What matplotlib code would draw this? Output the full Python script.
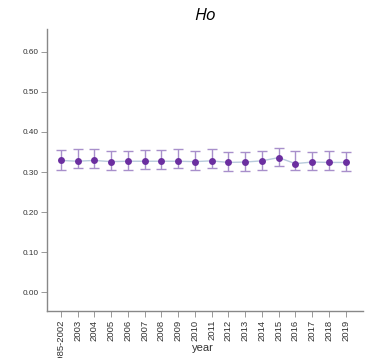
import numpy as np
import matplotlib.pyplot as plt

# Ho por año, con barras de error
years = ['1985-2002', '2003', '2004', '2005', '2006', '2007', '2008', '2009', '2010',
         '2011', '2012', '2013', '2014', '2015', '2016', '2017', '2018', '2019']
ho = [0.329, 0.327, 0.329, 0.326, 0.327, 0.327, 0.327, 0.327, 0.326,
      0.328, 0.324, 0.325, 0.328, 0.336, 0.321, 0.325, 0.324, 0.324]
ho_low = [0.306, 0.309, 0.309, 0.306, 0.306, 0.307, 0.307, 0.309, 0.306,
          0.310, 0.302, 0.302, 0.306, 0.314, 0.306, 0.304, 0.306, 0.302]
ho_high = [0.354, 0.357, 0.357, 0.352, 0.352, 0.354, 0.354, 0.357, 0.352,
           0.357, 0.349, 0.350, 0.352, 0.359, 0.352, 0.349, 0.352, 0.349]
yticks = [0.0, 0.1, 0.2, 0.3, 0.4, 0.5, 0.6]

plt.rcParams['font.family'] = ['Liberation Sans', 'DejaVu Sans']

fig = plt.figure(figsize=(3.73, 3.58), dpi=100)
ax = fig.add_axes([0.126, 0.131, 0.847, 0.788])

x = np.arange(len(years))
ho = np.array(ho)
err = [ho - np.array(ho_low), np.array(ho_high) - ho]

ax.plot(x, ho, color='#b8cadc', lw=1.0, zorder=1)
ax.errorbar(x, ho, yerr=err, fmt='none', ecolor='#a88fcb', elinewidth=1.0,
            capsize=3.5, capthick=1.0, zorder=2)
ax.scatter(x, ho, s=25, color='#6b2fa0', zorder=3, linewidths=0)

ax.set_xlim(-0.82, 18.03)
ax.set_ylim(-0.047, 0.657)
ax.set_xticks(x)
ax.set_xticklabels(years, rotation=90, fontsize=6.8, color='#333333')
ax.set_yticks(yticks)
ax.set_yticklabels([f'{v:.2f}' for v in yticks], fontsize=5.9, color='#333333')
ax.tick_params(axis='both', length=4, width=0.6, color='#888888', pad=2)

for s in ['top', 'right']:
    ax.spines[s].set_visible(False)
for s in ['left', 'bottom']:
    ax.spines[s].set_color('#888888')
    ax.spines[s].set_linewidth(1.0)

# etiqueta del eje x colocada a mano, como en el original
fig.text(0.543, 0.028, 'year', fontsize=8, color='#333333', ha='center', va='center')
fig.text(0.55, 0.955, 'Ho', fontsize=12.5, style='italic', ha='center', va='center',
         family=['Open Sans', 'DejaVu Sans'])

fig.savefig('out.png', dpi=100)
